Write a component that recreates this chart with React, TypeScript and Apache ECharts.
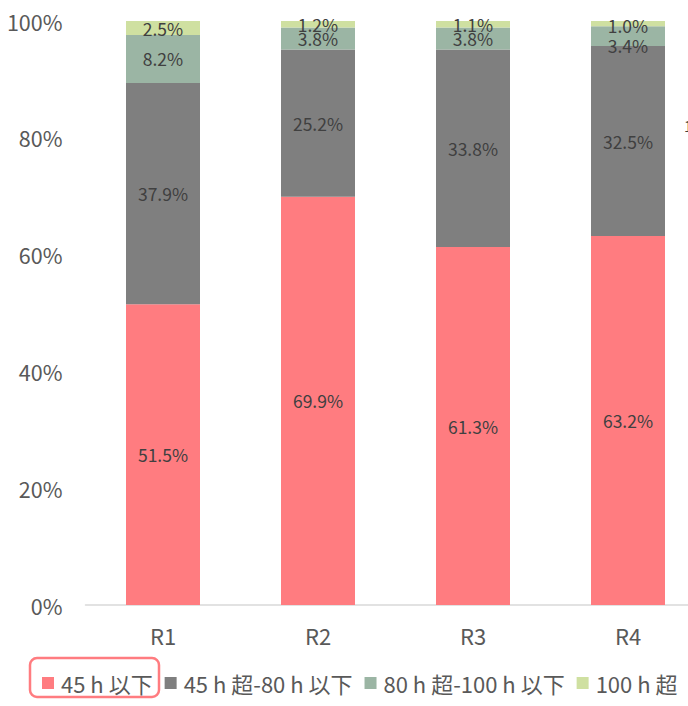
import React, { useEffect, useRef } from "react";
import * as echarts from "echarts";

const categories = ["R1", "R2", "R3", "R4"];
const seriesNames = ["45 h 以下", "45 h 超-80 h 以下", "80 h 超-100 h 以下", "100 h 超"];
const under45 = [51.5, 69.9, 61.3, 63.2];
const from45to80 = [37.9, 25.2, 33.8, 32.5];
const from80to100 = [8.2, 3.8, 3.8, 3.4];
const over100 = [2.5, 1.2, 1.1, 1.0];
const yTicks = [0, 20, 40, 60, 80, 100];

const colors = ["#FF7C80", "#7F7F7F", "#9BB5A4", "#CFE0A1"];
const FONT = "'Noto Sans CJK JP', 'Noto Sans', sans-serif";

export default function App() {
  const ref = useRef<HTMLDivElement>(null);
  useEffect(() => {
    if (!ref.current) return;
    const chart = echarts.init(ref.current, undefined, { renderer: "svg" });
    const allData = [under45, from45to80, from80to100, over100];
    const labelOffsets: Record<string, number[]> = { "2-3": [0, 9], "3-3": [0, 2] };
    chart.setOption({
      animation: false,
      grid: { left: 85.5, top: 21, width: 620, height: 584 },
      xAxis: {
        type: "category",
        data: categories,
        axisLine: { lineStyle: { color: "#D9D9D9", width: 1.5 } },
        axisTick: { show: false },
        axisLabel: { color: "#595959", fontSize: 22, margin: 19, fontFamily: FONT },
      },
      yAxis: {
        type: "value",
        min: 0,
        max: 100,
        interval: 20,
        axisLine: { show: false },
        axisTick: { show: false },
        splitLine: { show: false },
        axisLabel: {
          color: "#595959",
          fontSize: 21.5,
          margin: 23,
          fontFamily: FONT,
          formatter: (v: number) => (yTicks.includes(v) ? `${v}%` : ""),
        },
      },
      legend: {
        left: 37,
        top: 667,
        itemWidth: 12,
        itemHeight: 12,
        itemGap: 12,
        icon: "rect",
        textStyle: { color: "#595959", fontSize: 22, fontFamily: FONT, padding: [0, 0, 0, 2] },
        data: seriesNames,
      },
      graphic: [
        {
          type: "rect",
          shape: { x: 30, y: 658, width: 129, height: 39, r: 7 },
          style: { fill: "none", stroke: "#FF7C80", lineWidth: 2.5 },
        },
        {
          type: "text",
          x: 684,
          y: 118,
          style: { text: "1", fontSize: 15, fill: "#404040", fontFamily: FONT },
        },
      ],
      series: seriesNames.map((name, si) => ({
        name,
        type: "bar",
        stack: "total",
        barWidth: 74,
        itemStyle: { color: colors[si] },
        label: {
          show: true,
          position: "inside",
          color: "#404040",
          fontSize: 17.5,
          fontFamily: FONT,
          formatter: (p: any) => `${Number(p.value).toFixed(1)}%`,
        },
        data: allData[si].map((v, ci) => {
          const off = labelOffsets[`${si}-${ci}`];
          return off ? { value: v, label: { offset: off } } : v;
        }),
      })),
    });
    return () => chart.dispose();
  }, []);
  return (
    <div style={{ position: "fixed", left: 0, top: 0, width: 688, height: 706, overflow: "hidden", background: "#fff" }}>
      <div ref={ref} style={{ width: 760, height: 706 }} />
    </div>
  );
}
